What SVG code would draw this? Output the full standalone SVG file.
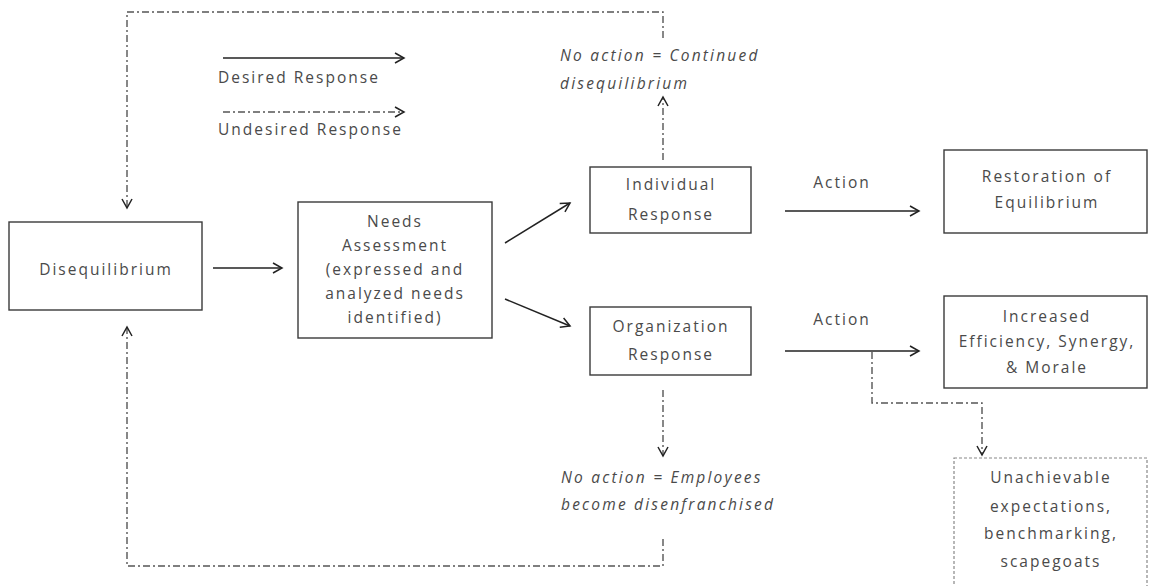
<svg xmlns="http://www.w3.org/2000/svg" width="1149" height="586" viewBox="0 0 1149 586">
<style>
.t{font-family:"Open Sans","DejaVu Sans",sans-serif;font-size:15.5px;fill:#4a4a4a;letter-spacing:2px}
.c{text-anchor:middle}
.i{font-style:italic;letter-spacing:2.2px}
.box{fill:#fff;stroke:#3a3a3a;stroke-width:1.4}
.dbox{fill:#fff;stroke:#888;stroke-width:1.2;stroke-dasharray:3,2}
.s{fill:none;stroke:#222;stroke-width:1.5}
.d{fill:none;stroke:#555;stroke-width:1.4;stroke-dasharray:7,3,2,3}
</style>
<defs>
<marker id="ah" markerUnits="userSpaceOnUse" markerWidth="12" markerHeight="12" viewBox="0 0 12 12" refX="10" refY="6" orient="auto">
<path d="M1,1 L10,6 L1,11" fill="none" stroke="#222" stroke-width="1.5"/>
</marker>
</defs>
<rect width="1149" height="586" fill="#fff"/>
<g id="legend">
<line class="s" x1="223" y1="58" x2="404" y2="58" marker-end="url(#ah)"/>
<text class="t" x="218" y="83">Desired Response</text>
<line class="d" x1="223" y1="112" x2="404" y2="112" marker-end="url(#ah)"/>
<text class="t" x="218" y="135">Undesired Response</text>
</g>
<g id="connectors">
<line class="s" x1="213" y1="268" x2="282" y2="268" marker-end="url(#ah)"/>
<line class="s" x1="505" y1="243" x2="570" y2="203" marker-end="url(#ah)"/>
<line class="s" x1="505" y1="299" x2="570" y2="326" marker-end="url(#ah)"/>
<line class="s" x1="785" y1="211" x2="919" y2="211" marker-end="url(#ah)"/>
<line class="s" x1="785" y1="351" x2="919" y2="351" marker-end="url(#ah)"/>
<polyline class="d" points="872,352 872,403 982,403 982,455" marker-end="url(#ah)"/>
<line class="d" x1="663" y1="160" x2="663" y2="97" marker-end="url(#ah)"/>
<polyline class="d" points="663,38 663,12 127,12 127,208" marker-end="url(#ah)"/>
<line class="d" x1="663" y1="390" x2="663" y2="456" marker-end="url(#ah)"/>
<polyline class="d" points="663,539 663,566 127,566 127,327" marker-end="url(#ah)"/>
</g>
<g id="disequilibrium">
<rect class="box" x="9" y="222" width="193" height="88"/>
<text class="t c" x="106" y="275">Disequilibrium</text>
</g>
<g id="needs">
<rect class="box" x="298" y="202" width="194" height="136"/>
<text class="t c" x="395" y="227">Needs</text>
<text class="t c" x="395" y="251">Assessment</text>
<text class="t c" x="395" y="275">(expressed and</text>
<text class="t c" x="395" y="299">analyzed needs</text>
<text class="t c" x="395" y="323">identified)</text>
</g>
<g id="individual">
<rect class="box" x="590" y="167" width="161" height="66"/>
<text class="t c" x="671" y="190">Individual</text>
<text class="t c" x="671" y="220">Response</text>
</g>
<g id="organization">
<rect class="box" x="590" y="307" width="161" height="68"/>
<text class="t c" x="671" y="332">Organization</text>
<text class="t c" x="671" y="360">Response</text>
</g>
<g id="action1">
<text class="t c" x="842" y="188">Action</text>
</g>
<g id="action2">
<text class="t c" x="842" y="325">Action</text>
</g>
<g id="restoration">
<rect class="box" x="944" y="150" width="203" height="83"/>
<text class="t c" x="1047" y="182">Restoration of</text>
<text class="t c" x="1047" y="208">Equilibrium</text>
</g>
<g id="increased">
<rect class="box" x="944" y="296" width="203" height="92"/>
<text class="t c" x="1047" y="322">Increased</text>
<text class="t c" x="1047" y="347">Efficiency, Synergy,</text>
<text class="t c" x="1047" y="373">&amp; Morale</text>
</g>
<g id="noaction1">
<text class="t i" x="560" y="61">No action = Continued</text>
<text class="t i" x="560" y="89">disequilibrium</text>
</g>
<g id="noaction2">
<text class="t i" x="561" y="483">No action = Employees</text>
<text class="t i" x="561" y="510">become disenfranchised</text>
</g>
<g id="unachievable">
<rect class="dbox" x="954" y="458" width="193" height="140"/>
<text class="t c" x="1051" y="483">Unachievable</text>
<text class="t c" x="1051" y="512">expectations,</text>
<text class="t c" x="1051" y="539">benchmarking,</text>
<text class="t c" x="1051" y="567">scapegoats</text>
</g>
</svg>
